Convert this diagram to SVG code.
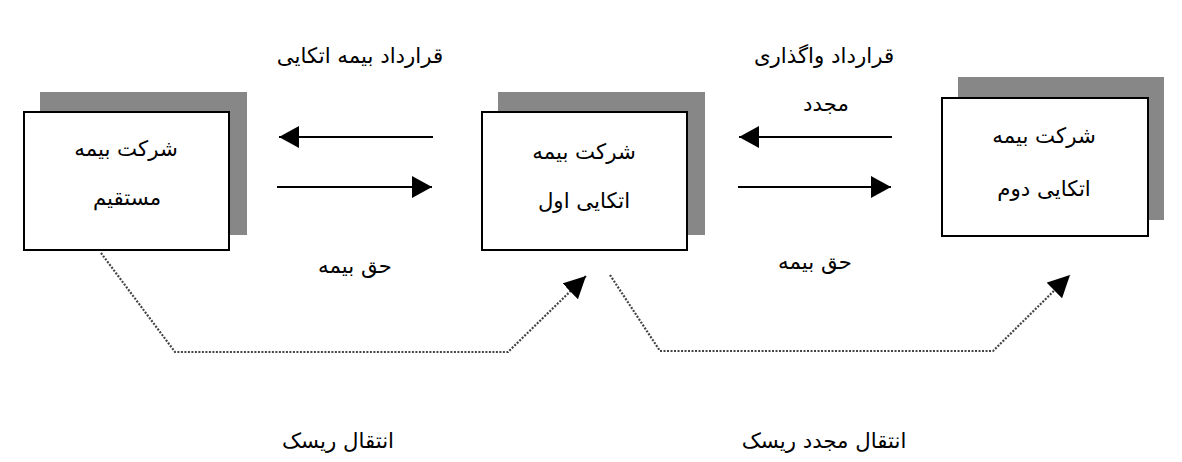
<svg xmlns="http://www.w3.org/2000/svg" width="1182" height="462" viewBox="0 0 1182 462">
<style>
.shadow{fill:#878787}
.box{fill:#fff;stroke:#000;stroke-width:2}
text{font-family:"DejaVu Sans","Noto Sans",sans-serif;font-size:21.3px;fill:#000;text-anchor:middle;direction:rtl}
.solid{stroke:#000;stroke-width:2;fill:none}
.dot{stroke:#444;stroke-width:2.2;stroke-dasharray:2 1.5;fill:none}
</style>
<defs>
<marker id="ah" viewBox="0 0 20 22" refX="20" refY="11" markerWidth="20" markerHeight="22" markerUnits="userSpaceOnUse" orient="auto">
<path d="M0,0 L20,11 L0,22 Z" fill="#000"/>
</marker>
<marker id="ah2" viewBox="0 0 22 22" refX="22" refY="11" markerWidth="22" markerHeight="22" markerUnits="userSpaceOnUse" orient="auto">
<path d="M0,0 L22,11 L0,22 Z" fill="#000"/>
</marker>
</defs>
<rect width="1182" height="462" fill="#fff"/>
<g id="node-direct">
<rect class="shadow" x="40" y="92" width="207" height="143"/>
<rect class="box" x="24" y="112" width="205" height="138"/>
<text x="126" y="156">شرکت بیمه</text>
<text x="127" y="205">مستقیم</text>
</g>
<g id="node-first">
<rect class="shadow" x="498" y="92" width="207" height="143"/>
<rect class="box" x="482" y="112" width="205" height="138"/>
<text x="584" y="159">شرکت بیمه</text>
<text x="584" y="208">اتکایی اول</text>
</g>
<g id="node-second">
<rect class="shadow" x="958" y="77" width="206" height="143"/>
<rect class="box" x="942" y="98" width="206" height="138"/>
<text x="1044" y="143">شرکت بیمه</text>
<text x="1044" y="196">اتکایی دوم</text>
</g>
<g id="connectors">
<line class="solid" x1="433" y1="137" x2="279" y2="137" marker-end="url(#ah)"/>
<line class="solid" x1="277" y1="187" x2="432" y2="187" marker-end="url(#ah)"/>
<line class="solid" x1="892" y1="137" x2="739" y2="137" marker-end="url(#ah)"/>
<line class="solid" x1="738" y1="187" x2="891" y2="187" marker-end="url(#ah)"/>
<polyline class="dot" points="101,253 175,352 508,352 586,276" marker-end="url(#ah2)"/>
<polyline class="dot" points="610,275 660,351 993,351 1070,275" marker-end="url(#ah2)"/>
</g>
<g id="labels">
<text x="360" y="63">قرارداد بیمه اتکایی</text>
<text x="824" y="63">قرارداد واگذاری</text>
<text x="826" y="111">مجدد</text>
<text x="355" y="273">حق بیمه</text>
<text x="815" y="269">حق بیمه</text>
<text x="338" y="448">انتقال ریسک</text>
<text x="824" y="448">انتقال مجدد ریسک</text>
</g>
</svg>
